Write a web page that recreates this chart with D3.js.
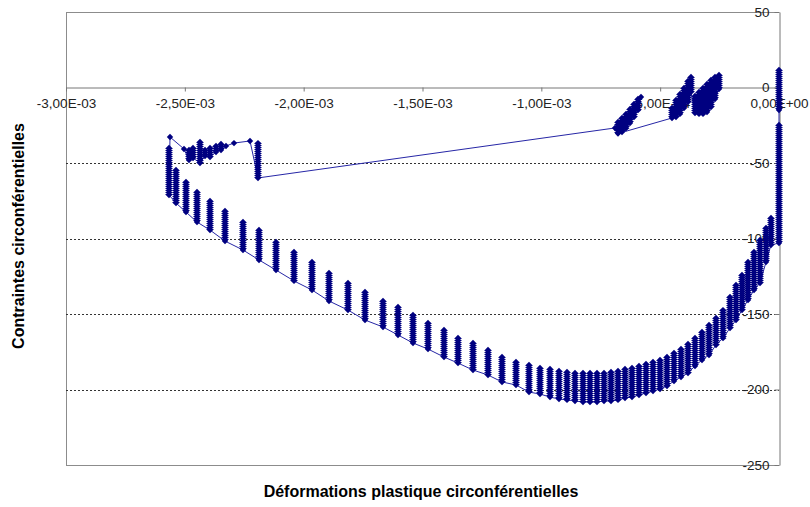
<!DOCTYPE html>
<html>
<head>
<meta charset="utf-8">
<script src="https://cdn.jsdelivr.net/npm/d3@7/dist/d3.min.js"></script>
<style>
  html, body { margin: 0; padding: 0; background: #fff; }
  svg { display: block; }
  text { font-family: "Liberation Sans", Arial, sans-serif; }
</style>
</head>
<body>
<svg id="chart" width="810" height="507"></svg>
<script>
// ---- Data ----
// Each entry is a cluster of points at one plastic strain: highest and lowest stress.
const colStrain = [
  0, 0, -0.0337e-3, -0.0547e-3, -0.0799e-3, -0.1052e-3, -0.1304e-3, -0.1557e-3, -0.1809e-3, -0.2062e-3,
  -0.2356e-3, -0.2651e-3, -0.2945e-3, -0.3240e-3, -0.3534e-3, -0.3829e-3, -0.4123e-3, -0.4418e-3, -0.4713e-3, -0.5007e-3,
  -0.5302e-3, -0.5596e-3, -0.5891e-3, -0.6185e-3, -0.6480e-3, -0.6774e-3, -0.7069e-3, -0.7363e-3, -0.7658e-3, -0.7952e-3,
  -0.8247e-3, -0.8584e-3, -0.8920e-3, -0.9257e-3, -0.9635e-3, -1.0056e-3, -1.0519e-3, -1.1066e-3, -1.1655e-3, -1.2244e-3,
  -1.2875e-3, -1.3506e-3, -1.4095e-3, -1.4769e-3, -1.5400e-3, -1.6031e-3, -1.6662e-3, -1.7419e-3, -1.8135e-3, -1.8934e-3,
  -1.9650e-3, -2.0407e-3, -2.1164e-3, -2.1880e-3, -2.2553e-3, -2.3310e-3, -2.3941e-3, -2.4488e-3, -2.4951e-3, -2.5372e-3,
  -2.5666e-3, -2.5624e-3, -2.5035e-3, -2.4825e-3, -2.4657e-3, -2.4362e-3, -2.4152e-3, -2.3941e-3, -2.3689e-3, -2.3478e-3,
  -2.3268e-3, -2.2931e-3, -2.2258e-3, -2.1922e-3, -0.6900e-3, -0.5806e-3, -0.5933e-3, -0.6101e-3, -0.6269e-3, -0.6438e-3,
  -0.6606e-3, -0.6774e-3, -0.4502e-3, -0.4334e-3, -0.4166e-3, -0.3997e-3, -0.3829e-3, -0.3703e-3, -0.3534e-3, -0.3366e-3,
  -0.3198e-3, -0.3029e-3, -0.2861e-3, -0.2693e-3, -0.2525e-3
];
const colHigh = [
  11.6, -24.8, -86.4, -93.0, -101.0, -108.9, -115.6, -124.2, -130.8, -138.7,
  -147.4, -152.6, -157.3, -161.9, -165.9, -169.9, -173.2, -175.8, -178.5, -180.5,
  -181.8, -183.1, -184.4, -185.8, -186.4, -187.7, -188.4, -189.1, -189.1, -189.1,
  -189.1, -189.1, -188.4, -187.7, -186.4, -185.8, -183.8, -181.8, -178.5, -173.8,
  -169.2, -165.9, -160.6, -155.9, -150.7, -145.4, -141.4, -135.4, -129.5, -122.8,
  -115.6, -108.9, -102.3, -94.4, -89.1, -81.8, -75.2, -69.2, -62.6, -54.6,
  -40.1, -32.8, -40.7, -41.4, -40.1, -36.1, -41.4, -40.1, -38.7, -37.4,
  -38.7, -36.8, -35.4, -36.8, -26.8, -6.3, -7.6, -10.9, -14.2, -17.5,
  -20.2, -22.8, -13.6, -8.3, -4.3, -0.3, 4.3, 7.0, -5.6, -3.0,
  -0.3, 2.3, 5.0, 7.0, 8.3
];
const colLow = [
  -14.9, -103.0, -104.3, -115.6, -129.5, -134.1, -140.7, -147.4, -154.0, -159.3,
  -166.0, -170.5, -177.2, -180.5, -184.4, -189.1, -191.7, -194.4, -197.7, -199.7,
  -201.0, -202.3, -203.6, -205.0, -205.6, -206.9, -207.6, -207.6, -208.3, -208.3,
  -208.3, -207.6, -206.9, -206.3, -205.0, -203.0, -201.7, -197.0, -195.0, -190.4,
  -187.1, -182.5, -178.5, -173.2, -169.2, -163.9, -158.6, -154.0, -147.4, -141.4,
  -134.1, -128.1, -120.9, -114.2, -107.6, -101.7, -94.4, -89.1, -82.5, -76.5,
  -71.2, -32.8, -40.7, -48.0, -46.7, -50.0, -45.4, -46.0, -42.7, -41.4,
  -38.7, -36.8, -35.4, -59.9, -26.8, -6.3, -15.0, -19.5, -23.5, -27.0,
  -29.5, -30.5, -20.2, -19.5, -17.5, -13.6, -9.6, -3.0, -16.9, -17.5,
  -17.5, -16.2, -12.9, -7.6, -1.0
];
const xTicks = [-3e-3, -2.5e-3, -2e-3, -1.5e-3, -1e-3, -0.5e-3, 0];
const yTicks = [50, 0, -50, -100, -150, -200, -250];
const gridValues = [-50, -100, -150, -200];
const xTitle = "Déformations plastique circonférentielles";
const yTitle = "Contraintes circonférentielles";

// ---- Layout ----
const svg = d3.select("#chart");
const x = d3.scaleLinear().domain([-3e-3, 0]).range([66, 779]);
const y = d3.scaleLinear().domain([-250, 50]).range([465, 12]);
const navy = "#000080";
const font = "'Liberation Sans', Arial, sans-serif";

function fmtExp(v) {
  if (v === 0) return "0,00E+00";
  const e = Math.floor(Math.log10(Math.abs(v)) + 1e-9);
  const m = v / Math.pow(10, e);
  const s = e < 0 ? "-" : "+";
  return m.toFixed(2).replace(".", ",") + "E" + s + String(Math.abs(e)).padStart(2, "0");
}

// plot frame
const frame = svg.append("g").attr("shape-rendering", "crispEdges");
frame.append("line").attr("x1", x(-3e-3)).attr("x2", x(0)).attr("y1", y(50)).attr("y2", y(50)).attr("stroke", "#8c8c8c");
frame.append("line").attr("x1", x(-3e-3)).attr("x2", x(0)).attr("y1", y(-250)).attr("y2", y(-250)).attr("stroke", "#8c8c8c");
frame.append("line").attr("x1", x(-3e-3)).attr("x2", x(-3e-3)).attr("y1", y(50)).attr("y2", y(-250)).attr("stroke", "#8c8c8c");

// gridlines
svg.append("g").selectAll("line").data(gridValues).join("line")
  .attr("x1", x(-3e-3)).attr("x2", x(0))
  .attr("y1", d => Math.round(y(d)) + 0.5).attr("y2", d => Math.round(y(d)) + 0.5)
  .attr("stroke", "#333").attr("stroke-dasharray", "2 2");

// x axis (crossing at 0)
const xAxis = svg.append("g").attr("transform", `translate(0,${Math.round(y(0)) + 0.5})`)
  .call(d3.axisBottom(x).tickValues(xTicks).tickFormat(fmtExp).tickSize(4).tickSizeOuter(0).tickPadding(7));
xAxis.select(".domain").attr("stroke", "#777");
xAxis.selectAll(".tick line").attr("stroke", "#777");
xAxis.selectAll("text").attr("fill", "#222").style("font-size", "13.5px").style("font-family", font);

// y axis (at x = 0)
const yAxis = svg.append("g").attr("transform", `translate(${Math.round(x(0)) + 0.5},0)`)
  .call(d3.axisLeft(y).tickValues(yTicks).tickFormat(d3.format("d")).tickSize(5).tickSizeOuter(0).tickPadding(5));
yAxis.select(".domain").attr("stroke", "#777");
yAxis.selectAll(".tick line").attr("stroke", "#777");
yAxis.selectAll("text").attr("fill", "#222").style("font-size", "13.5px").style("font-family", font)
  .text(d => d < 0 ? "-" + Math.abs(d) : String(d));

// ---- Series ----
const cols = colStrain.map((s, i) => ({ s, hi: colHigh[i], lo: colLow[i] }));
const data = svg.append("g");

// connecting line
data.append("path").datum(cols)
  .attr("fill", "none").attr("stroke", "#2626a6").attr("stroke-width", 1)
  .attr("d", d3.line().x(d => x(d.s)).y(d => y(d.lo)));

// clusters of points (stacked diamond markers)
const bars = cols.filter(d => d.hi !== d.lo);
data.append("g").selectAll("line").data(bars).join("line")
  .attr("x1", d => x(d.s)).attr("x2", d => x(d.s))
  .attr("y1", d => y(d.hi)).attr("y2", d => y(d.lo))
  .attr("stroke", navy).attr("stroke-width", 5);
data.append("g").selectAll("line").data(bars).join("line")
  .attr("x1", d => x(d.s)).attr("x2", d => x(d.s))
  .attr("y1", d => y(d.hi)).attr("y2", d => y(d.lo))
  .attr("stroke", navy).attr("stroke-width", 7).attr("stroke-dasharray", "1 1");

const diamond = d3.symbol().type(d3.symbolDiamond2).size(26);
const ends = [];
cols.forEach(d => { ends.push({ s: d.s, v: d.hi }); if (d.hi !== d.lo) ends.push({ s: d.s, v: d.lo }); });
data.append("g").selectAll("path").data(ends).join("path")
  .attr("transform", d => `translate(${x(d.s)},${y(d.v)})`)
  .attr("d", diamond).attr("fill", navy);

// ---- Titles ----
svg.append("text").attr("x", 421).attr("y", 497).attr("text-anchor", "middle")
  .style("font-size", "16px").style("font-weight", "bold").style("font-family", font).attr("fill", "#000").text(xTitle);
svg.append("text").attr("transform", "translate(24,236) rotate(-90)").attr("text-anchor", "middle")
  .style("font-size", "16px").style("font-weight", "bold").style("font-family", font).attr("fill", "#000").text(yTitle);
</script>
</body>
</html>
